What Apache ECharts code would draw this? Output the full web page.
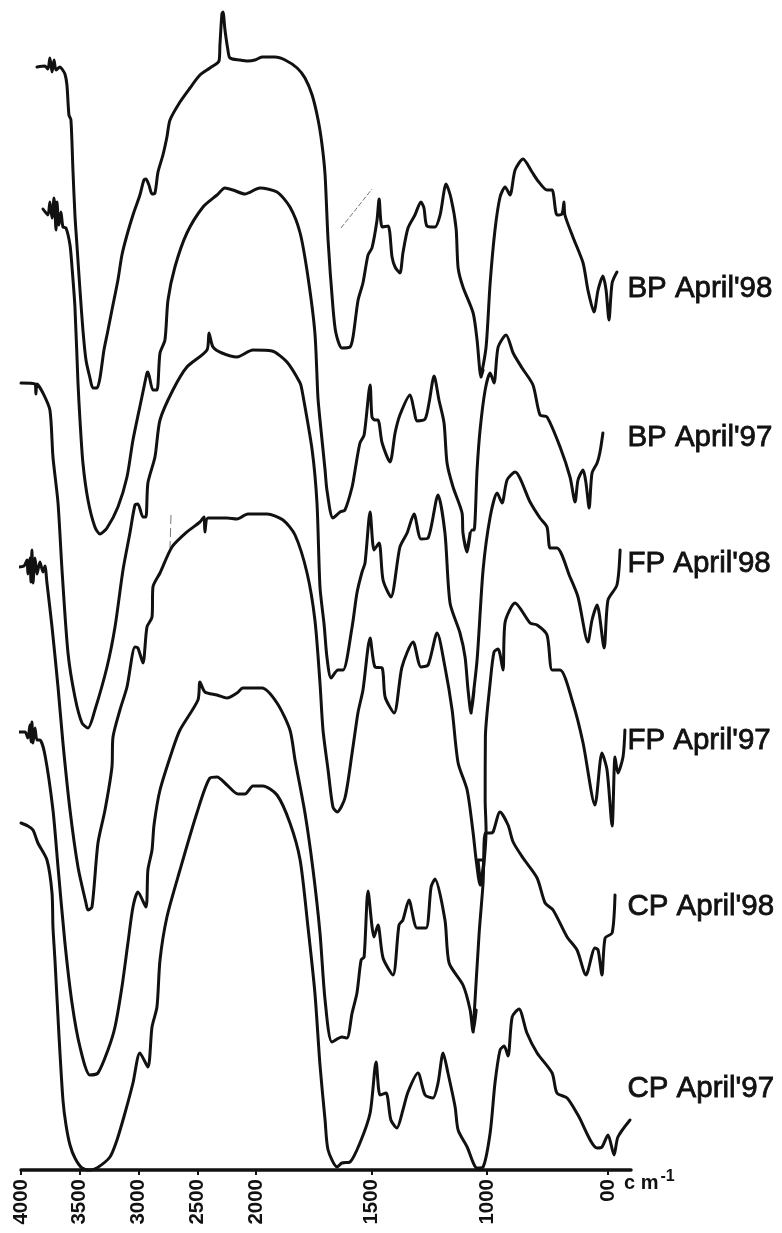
<!DOCTYPE html>
<html><head><meta charset="utf-8">
<style>html,body{margin:0;padding:0;background:#fff}#c{width:782px;height:1233px}</style>
<script src="https://cdn.jsdelivr.net/npm/echarts@6/dist/echarts.min.js"></script>
</head><body><div id="c"></div>
<script>
// wavenumber (cm-1), relative transmittance (offset stack, arbitrary units)
const tickWaves=[4000,3500,3000,2500,2000,1500,1000,500];
const tickTexts=['4000','3500','3000','2500','2000','1500','1000','00'];
const seriesNames=["BP April'98","BP April'97","FP April'98","FP April'97","CP April'98","CP April'97"];
const bpApr98=[[3864,1103],[3796,1104],[3771,1101],[3754,1112],[3736,1098],[3719,1110],[3702,1100],[3668,1103],[3651,1101],[3626,1096],[3609,1085],[3592,1055],[3575,1050],[3558,1000],[3541,955],[3524,925],[3498,880],[3473,840],[3447,810],[3413,792],[3388,782],[3354,782],[3328,792],[3294,820],[3268,835],[3226,860],[3175,890],[3141,915],[3098,935],[3047,955],[2988,975],[2954,990],[2937,991],[2911,985],[2885,976],[2860,977],[2834,998],[2792,1015],[2758,1033],[2732,1050],[2647,1068],[2562,1082],[2477,1095],[2392,1102],[2315,1109],[2307,1125],[2290,1156],[2281,1158],[2264,1140],[2239,1120],[2222,1112],[2137,1110],[2069,1109],[2009,1110],[1974,1113],[1918,1113],[1874,1110],[1822,1102],[1788,1092],[1757,1075],[1731,1050],[1714,1025],[1701,995],[1688,930],[1667,863],[1654,837],[1628,822],[1593,823],[1580,833],[1558,870],[1537,887],[1515,915],[1498,922],[1476,950],[1467,971],[1454,943],[1428,944],[1411,913],[1398,903],[1377,897],[1364,917],[1342,942],[1312,955],[1286,968],[1273,962],[1260,944],[1225,943],[1203,955],[1177,986],[1156,972],[1134,942],[1125,902],[1104,883],[1060,857],[1043,830],[1026,793],[1017,800],[1026,793],[1004,823],[987,887],[967,940],[946,973],[925,983],[905,975],[884,1000],[851,1011],[814,998],[789,989],[752,980],[731,980],[711,955],[690,956],[682,968],[678,955],[645,933],[603,907],[583,880],[558,858],[541,880],[521,894],[508,880],[496,850],[483,887],[463,898]];
const bpApr97=[[3813,961],[3771,955],[3754,968],[3736,952],[3719,972],[3702,940],[3694,968],[3677,945],[3660,958],[3643,943],[3617,942],[3583,925],[3566,903],[3541,863],[3515,787],[3498,750],[3473,707],[3430,670],[3371,643],[3328,636],[3268,642],[3175,663],[3098,693],[3047,730],[2971,773],[2928,797],[2920,798],[2877,780],[2843,780],[2817,817],[2775,830],[2749,870],[2690,903],[2588,937],[2451,963],[2332,975],[2264,982],[2196,980],[2094,976],[1983,982],[1909,978],[1853,963],[1809,937],[1775,893],[1745,837],[1732,773],[1723,750],[1701,700],[1693,680],[1667,652],[1636,658],[1615,660],[1584,683],[1571,700],[1550,727],[1532,735],[1506,785],[1498,753],[1485,750],[1472,750],[1454,727],[1420,708],[1398,737],[1377,755],[1333,775],[1316,760],[1303,749],[1268,751],[1251,767],[1229,794],[1208,770],[1186,747],[1173,707],[1147,683],[1108,657],[1104,637],[1086,618],[1073,637],[1082,625],[1065,640],[1056,640],[1043,700],[1030,740],[1008,780],[987,797],[971,787],[954,823],[921,835],[892,817],[855,802],[810,785],[781,755],[752,753],[698,723],[657,693],[636,668],[624,690],[603,700],[591,687],[578,662],[566,697],[545,707],[533,718],[521,737]];
const fpApr98=[[4000,787],[3881,786],[3873,776],[3864,786],[3813,777],[3754,760],[3728,713],[3685,667],[3651,600],[3600,517],[3541,473],[3481,447],[3430,442],[3371,460],[3268,503],[3200,543],[3132,600],[3073,637],[3030,665],[3005,666],[2962,653],[2937,653],[2920,687],[2860,713],[2817,750],[2707,780],[2588,803],[2417,820],[2400,837],[2366,823],[2290,817],[2162,813],[2026,820],[1931,819],[1866,808],[1809,787],[1801,780],[1757,720],[1736,667],[1723,583],[1705,545],[1693,513],[1675,492],[1645,500],[1623,500],[1584,543],[1563,577],[1541,598],[1528,607],[1506,658],[1489,620],[1467,627],[1450,590],[1416,573],[1377,623],[1346,637],[1316,656],[1286,631],[1255,632],[1212,675],[1182,637],[1160,567],[1117,537],[1095,513],[1082,480],[1069,457],[1056,480],[1069,457],[1043,510],[1017,600],[987,653],[958,677],[938,667],[917,690],[884,698],[822,668],[781,652],[752,643],[739,622],[711,622],[657,593],[624,573],[583,528],[566,550],[545,565],[516,522],[500,570],[463,585],[450,620]];
const fpApr97=[[4034,603],[3975,604],[3949,610],[3941,596],[3924,612],[3915,588],[3907,620],[3898,587],[3881,612],[3864,596],[3839,608],[3813,598],[3796,604],[3779,587],[3736,543],[3685,483],[3643,427],[3583,360],[3515,303],[3447,267],[3430,260],[3396,263],[3345,327],[3285,360],[3226,403],[3217,433],[3158,460],[3098,483],[3030,523],[3005,522],[2962,507],[2928,543],[2885,553],[2877,583],[2817,597],[2715,623],[2588,638],[2477,648],[2443,653],[2435,638],[2409,652],[2247,652],[2162,651],[2069,656],[1952,656],[1883,650],[1831,635],[1779,597],[1745,550],[1723,487],[1710,440],[1688,400],[1667,363],[1649,358],[1615,372],[1584,417],[1571,438],[1558,458],[1537,480],[1506,532],[1485,503],[1454,502],[1441,473],[1402,457],[1368,503],[1320,528],[1286,503],[1255,505],[1216,537],[1182,503],[1151,460],[1125,407],[1086,380],[1060,337],[1047,310],[1030,285],[1013,310],[1039,310],[1026,285],[1004,340],[1008,370],[1007,433],[987,487],[971,518],[954,521],[934,500],[925,548],[884,567],[822,547],[793,545],[752,535],[731,500],[698,500],[645,467],[603,427],[554,365],[525,417],[504,400],[483,344],[471,413],[459,397],[438,413],[430,440]];
const cpApr98=[[4034,438],[3966,438],[3941,432],[3924,445],[3915,428],[3907,448],[3898,427],[3881,442],[3864,430],[3839,430],[3796,415],[3728,360],[3685,303],[3626,227],[3566,167],[3498,123],[3413,95],[3345,97],[3260,120],[3200,143],[3141,183],[3090,227],[3047,263],[3005,278],[2937,263],[2920,300],[2885,320],[2868,345],[2817,380],[2711,420],[2647,440],[2494,470],[2477,488],[2435,478],[2332,475],[2247,472],[2162,477],[2111,482],[1974,482],[1909,467],[1853,440],[1831,410],[1788,357],[1753,300],[1723,237],[1701,170],[1671,128],[1628,133],[1606,132],[1584,157],[1563,177],[1545,210],[1532,213],[1515,279],[1489,233],[1472,245],[1450,212],[1407,195],[1381,245],[1364,250],[1338,270],[1303,242],[1264,242],[1242,283],[1225,291],[1182,250],[1164,207],[1104,185],[1073,160],[1060,138],[1047,160],[1060,138],[1034,237],[1017,287],[1008,337],[987,337],[975,338],[946,358],[913,345],[892,328],[851,312],[793,292],[760,267],[727,260],[669,233],[628,220],[591,195],[554,222],[541,220],[525,195],[512,232],[483,237],[471,275]];
const cpApr97=[[4000,347],[3941,344],[3898,340],[3856,327],[3779,310],[3736,277],[3728,243],[3711,210],[3677,135],[3643,70],[3617,45],[3583,25],[3541,12],[3481,2],[3413,0],[3354,2],[3243,13],[3183,30],[3115,57],[3047,87],[2988,117],[2920,103],[2885,143],[2843,163],[2817,210],[2758,253],[2647,300],[2503,357],[2392,392],[2332,393],[2247,385],[2153,376],[2094,376],[2026,384],[1970,384],[1909,375],[1853,347],[1809,310],[1775,243],[1745,177],[1723,105],[1701,50],[1688,20],[1649,3],[1628,7],[1593,8],[1550,27],[1506,57],[1480,108],[1463,75],[1437,77],[1416,50],[1390,42],[1364,60],[1342,78],[1299,97],[1268,75],[1234,72],[1212,87],[1190,117],[1169,97],[1138,63],[1125,40],[1086,23],[1043,2],[1017,3],[987,37],[967,87],[946,120],[929,124],[913,114],[896,153],[868,161],[835,137],[793,117],[731,97],[711,77],[669,72],[624,55],[545,22],[525,23],[500,35],[475,15],[459,33],[409,50]];
const allSeries=[bpApr98,bpApr97,fpApr98,fpApr97,cpApr98,cpApr97];

// The instrument's wavenumber scale is piecewise (scale change at 2000 and 1000 cm-1)
function toAxis(w){
  if(w>=2000) return (4000-w)*0.1175;
  if(w>=1000) return 235+(2000-w)*0.231;
  return 466+(1000-w)*0.242;
}
const tickPos=tickWaves.map(toAxis);
const ink='#111';
const labelY=[290,439,565,742,908,1090];
const chart=echarts.init(document.getElementById('c'),null,{renderer:'canvas'});
chart.setOption({
  animation:false,
  backgroundColor:'#fff',
  grid:{left:21,right:151,top:0,bottom:63,containLabel:false},
  xAxis:{type:'value',min:0,max:610,splitLine:{show:false},
    axisLine:{onZero:false,lineStyle:{color:ink,width:3.5}},
    axisTick:{length:5,inside:false,customValues:tickPos,lineStyle:{color:ink,width:2}},
    axisLabel:{customValues:tickPos,rotate:90,margin:9,color:ink,fontFamily:'Liberation Sans',fontWeight:'bold',fontSize:20.5,
      formatter:v=>{let i=tickPos.findIndex(p=>Math.abs(p-v)<0.01);return i>=0?tickTexts[i]:'';}}},
  yAxis:{type:'value',min:0,max:1170,show:false,splitLine:{show:false}},
  series:allSeries.map((d,i)=>({type:'line',name:seriesNames[i],data:d.map(p=>[toAxis(p[0]),p[1]]),
    showSymbol:false,symbol:'none',smooth:0.25,clip:false,silent:true,
    lineStyle:{color:ink,width:3,join:'round',cap:'round'}})),
  graphic:seriesNames.map((n,i)=>({type:'text',left:627,top:labelY[i]-17,silent:true,
      style:{text:n,fill:ink,font:'29.5px "Liberation Sans"',stroke:ink,lineWidth:0.8}}))
    .concat([{type:'text',left:624,top:1169,silent:true,
      style:{text:'{a|c m}{b|-1}',rich:{a:{font:'bold 20px "Liberation Sans"',fill:ink},b:{font:'bold 16px "Liberation Sans"',fill:ink,padding:[0,0,12,2]}}}},
      {type:'line',silent:true,shape:{x1:341,y1:228,x2:372,y2:189},style:{stroke:'#777',lineWidth:1,lineDash:[5,2]}},
      {type:'line',silent:true,shape:{x1:171,y1:515,x2:170,y2:548},style:{stroke:'#777',lineWidth:1,lineDash:[9,4]}}])
});
</script></body></html>
